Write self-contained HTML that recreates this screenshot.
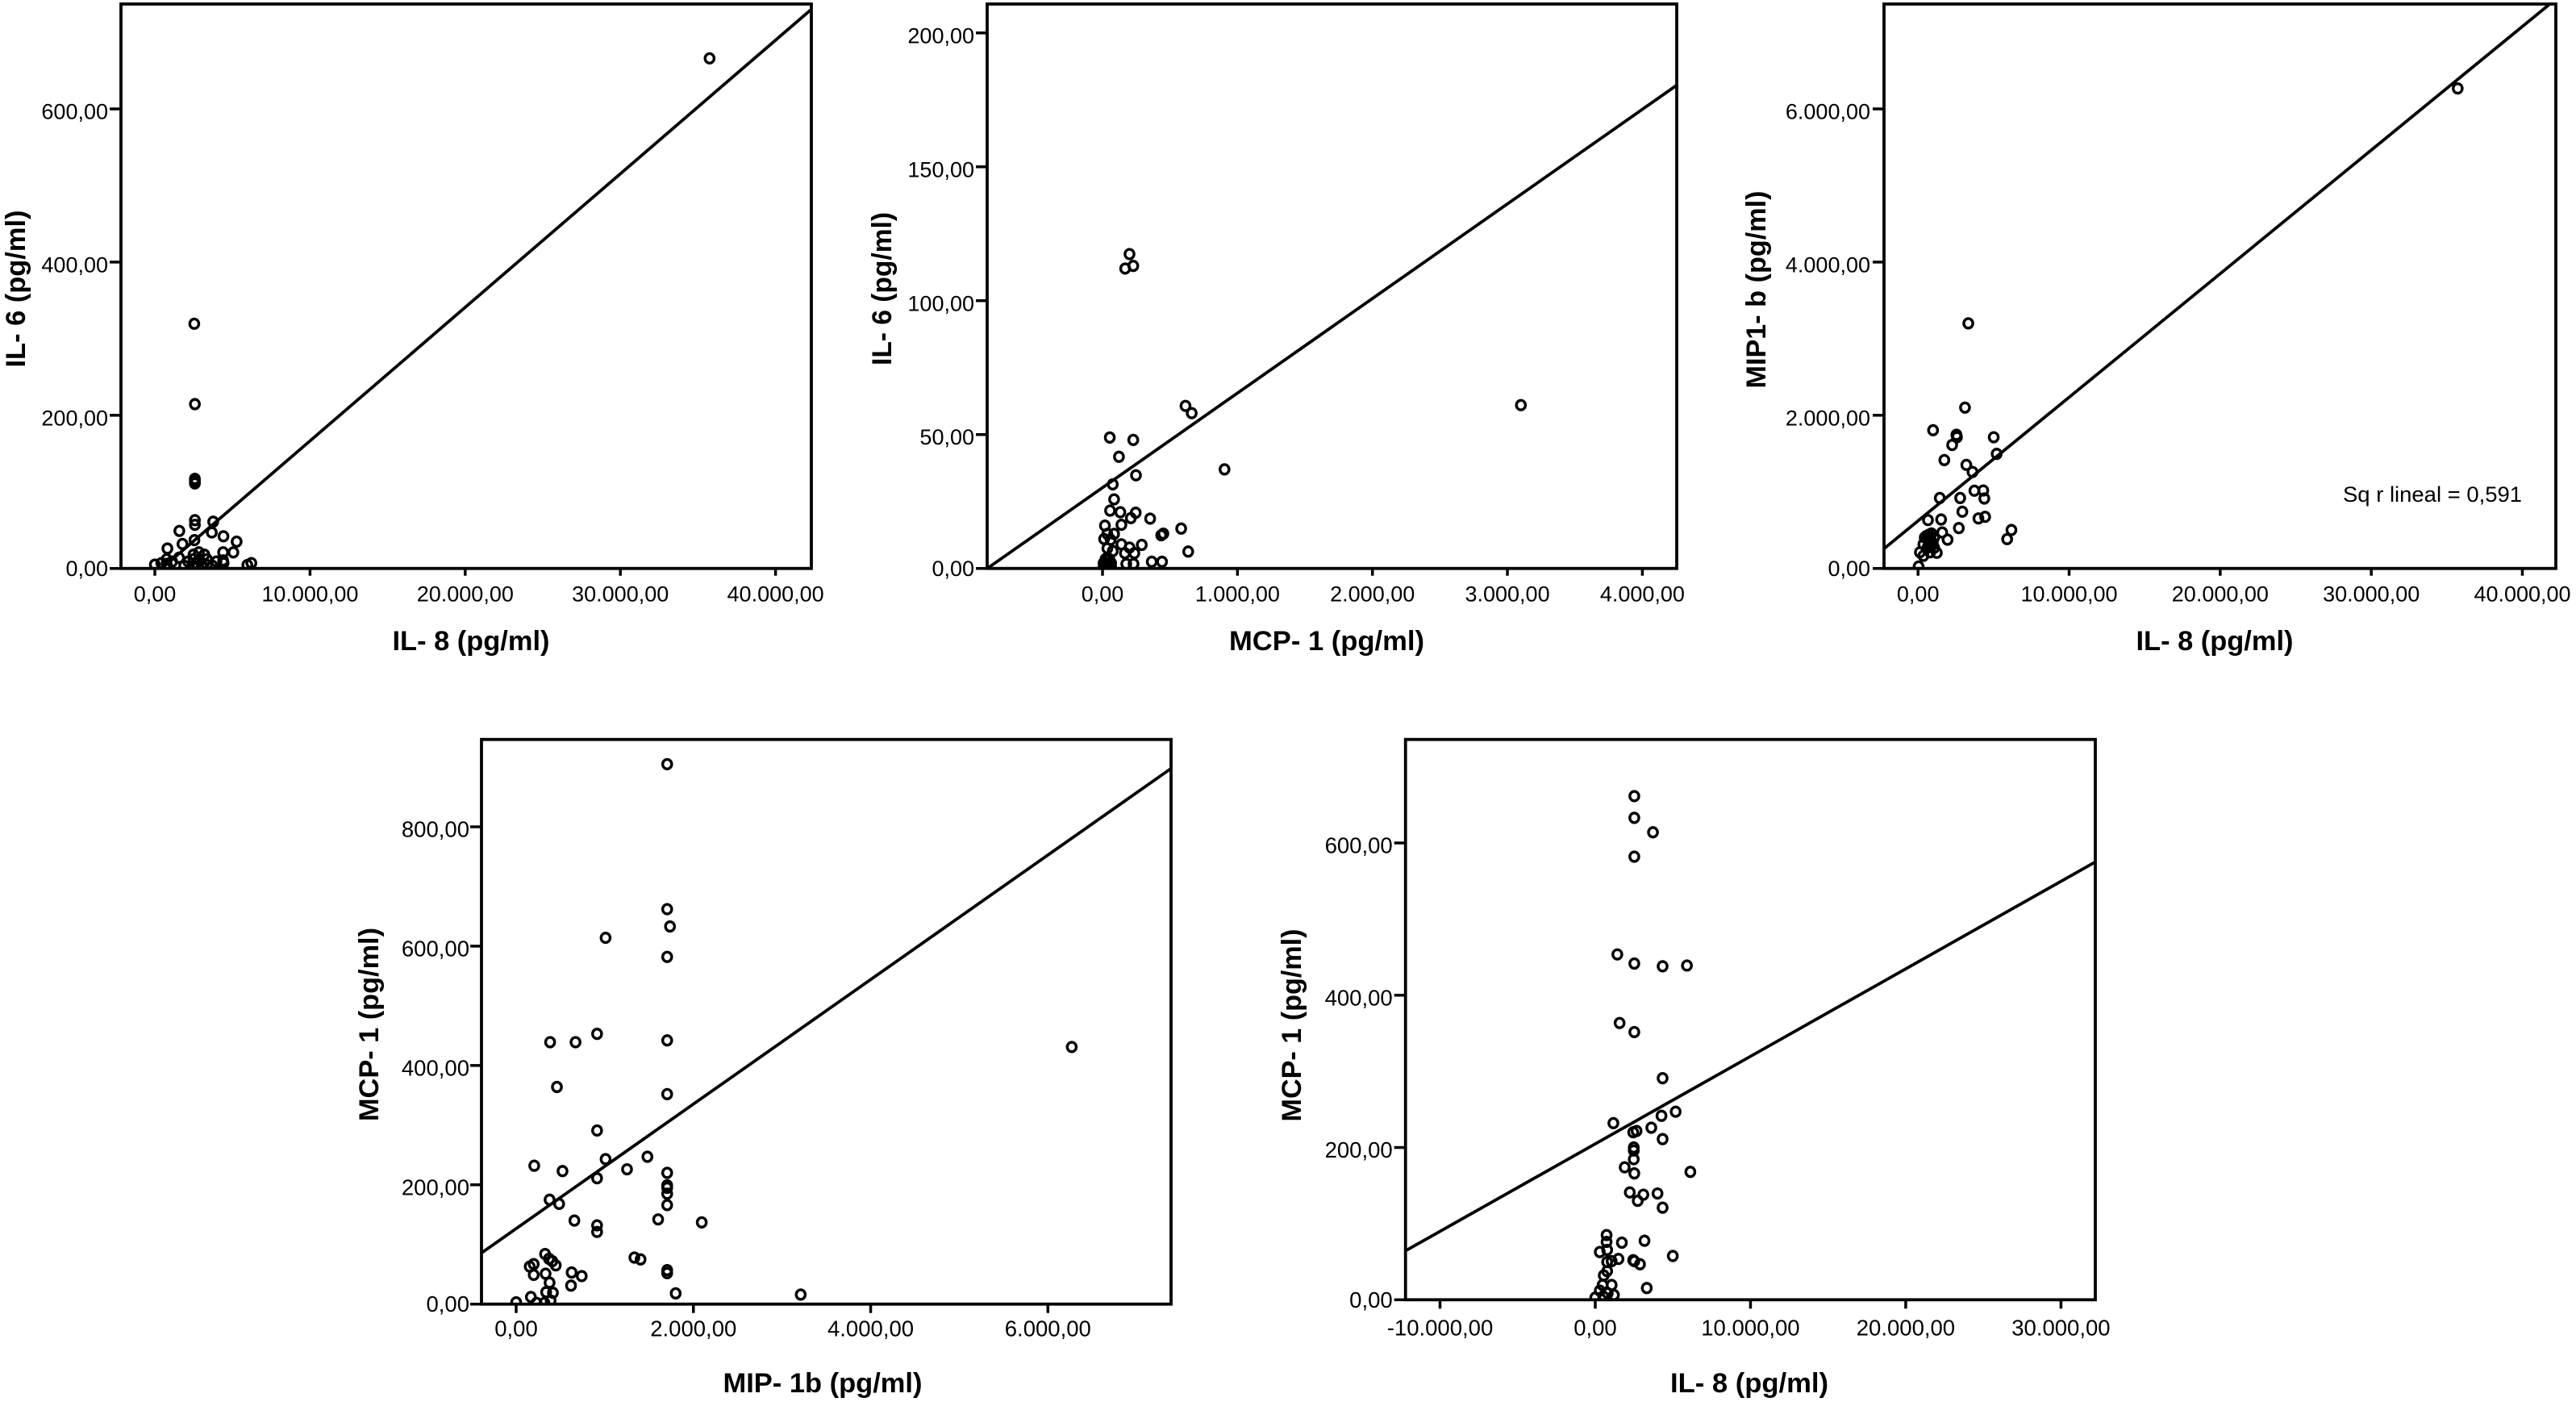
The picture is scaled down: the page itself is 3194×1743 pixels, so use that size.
<!DOCTYPE html>
<html lang="es">
<head>
<meta charset="utf-8">
<title>Scatter plots of cytokine correlations</title>
<style>
  html, body { margin: 0; padding: 0; background: #fff; }
  svg { display: block; }
  text { font-family: "Liberation Sans", Arial, sans-serif; fill: #000; }
  .axis-title { font-weight: bold; font-size: 34px; }
  .frame { fill: none; stroke: #000; stroke-width: 3.8; }
</style>
</head>
<body>
<svg id="figure" xmlns="http://www.w3.org/2000/svg" width="3194" height="1743" viewBox="0 0 3194 1743">
  <rect x="0" y="0" width="3194" height="1743" fill="#fff"/>

  <g id="panel-a">
    <rect class="frame" x="150" y="5" width="856" height="699.7"/>
    <text class="axis-title" x="584" y="806" text-anchor="middle" textLength="195" lengthAdjust="spacingAndGlyphs">IL- 8 (pg/ml)</text>
    <text class="axis-title" transform="translate(31 358) rotate(-90)" text-anchor="middle" textLength="195" lengthAdjust="spacingAndGlyphs">IL- 6 (pg/ml)</text>
  </g>

  <g id="panel-b">
    <rect class="frame" x="1224" y="5" width="855" height="699.7"/>
    <text class="axis-title" x="1645" y="806" text-anchor="middle" textLength="242" lengthAdjust="spacingAndGlyphs">MCP- 1 (pg/ml)</text>
    <text class="axis-title" transform="translate(1105 358) rotate(-90)" text-anchor="middle" textLength="190" lengthAdjust="spacingAndGlyphs">IL- 6 (pg/ml)</text>
  </g>

  <g id="panel-c">
    <rect class="frame" x="2336" y="5" width="833" height="699.7"/>
    <text class="axis-title" x="2746" y="806" text-anchor="middle" textLength="195" lengthAdjust="spacingAndGlyphs">IL- 8 (pg/ml)</text>
    <text class="axis-title" transform="translate(2189 359) rotate(-90)" text-anchor="middle" textLength="245" lengthAdjust="spacingAndGlyphs">MIP1- b (pg/ml)</text>
    <text x="2905" y="622" font-size="27" textLength="222" lengthAdjust="spacingAndGlyphs">Sq r lineal = 0,591</text>
  </g>

  <g id="panel-d">
    <rect class="frame" x="597" y="916.7" width="855" height="700"/>
    <text class="axis-title" x="1020" y="1726" text-anchor="middle" textLength="247" lengthAdjust="spacingAndGlyphs">MIP- 1b (pg/ml)</text>
    <text class="axis-title" transform="translate(469 1270) rotate(-90)" text-anchor="middle" textLength="240" lengthAdjust="spacingAndGlyphs">MCP- 1 (pg/ml)</text>
  </g>

  <g id="panel-e">
    <rect class="frame" x="1742.7" y="916.7" width="855.3" height="694.6"/>
    <text class="axis-title" x="2169" y="1726" text-anchor="middle" textLength="196" lengthAdjust="spacingAndGlyphs">IL- 8 (pg/ml)</text>
    <text class="axis-title" transform="translate(1613 1271) rotate(-90)" text-anchor="middle" textLength="239" lengthAdjust="spacingAndGlyphs">MCP- 1 (pg/ml)</text>
  </g>
</svg>

<script>
// ---- Panel A: IL-6 vs IL-8 ----
const panelAXValues = [35750, 2540, 2580, 2580, 2580, 2580, 2580, 2580, 3760, 3670, 1580, 2550, 4420, 5270, 1780, 810, 5060, 4400, 760, 1560, 2840, 2490, 3190, 4400, 3360, 2490, 2840, 2150, 3970, 4430, 6220, 5960, 0, 1110, 415, 760, 1890, 3010, 2670, 3710, 3360];
const panelAYValues = [666, 319.5, 214.5, 117, 114, 111, 63, 57, 61, 47, 49, 37, 42, 35, 32, 26, 21, 21, 12, 14, 21, 18, 18, 10.5, 12, 12, 12, 9, 9, 7, 7, 4.5, 5, 9, 7, 6, 3.5, 5, 7, 3.5, 4.5];
const panelATrendX = [450, 42308];
const panelATrendY = [0, 730];
const panelAXTickValues = [0, 10000, 20000, 30000, 40000];
const panelAXTickLabels = ["0,00", "10.000,00", "20.000,00", "30.000,00", "40.000,00"];
const panelAYTickValues = [0, 200, 400, 600];
const panelAYTickLabels = ["0,00", "200,00", "400,00", "600,00"];

// ---- Panel B: IL-6 vs MCP-1 ----
const panelBXValues = [200, 228, 168, 615, 661, 3100, 54, 228, 122, 904, 248, 76, 86, 56, 132, 246, 210, 353, 140, 18, 583, 451, 435, 86, 36, 12, 60, 140, 291, 200, 635, 36, 76, 166, 236, 365, 441, 176, 230, 8, 22, 36, 50, 64, 8, 22, 36, 50, 64, 22, 36, 50, 36];
const panelBYValues = [117.4, 113, 112, 60.7, 58, 61, 48.9, 48, 41.7, 37, 34.8, 31.4, 25.8, 21.6, 21, 20.8, 18.8, 18.6, 16.3, 16, 14.9, 13, 12.4, 12.9, 12.9, 11, 10.7, 9, 8.8, 7.8, 6.3, 7.5, 6.5, 5.7, 5.7, 2.5, 2.5, 1.7, 1.7, 0.5, 0.5, 0.5, 0.5, 0.5, 2, 2, 2, 2, 2, 3.5, 3.5, 3.5, 4];
const panelBTrendX = [-854, 4253];
const panelBTrendY = [0, 180.4];
const panelBXTickValues = [0, 1000, 2000, 3000, 4000];
const panelBXTickLabels = ["0,00", "1.000,00", "2.000,00", "3.000,00", "4.000,00"];
const panelBYTickValues = [0, 50, 100, 150, 200];
const panelBYTickLabels = ["0,00", "50,00", "100,00", "150,00", "200,00"];

// ---- Panel C: MIP1-b vs IL-8 ----
const panelCXValues = [35720, 3327, 3108, 995, 2540, 2575, 2256, 5009, 5204, 1741, 3197, 3606, 3730, 4316, 4387, 1439, 2789, 2931, 657, 1528, 3996, 4440, 2700, 6181, 5897, 1599, 1954, 888, 1066, 355, 124, 355, 799, 1243, 36, 533, 710, 622, 799, 444, 710, 977, 1066, 622, 799];
const panelCYValues = [6267, 3200, 2100, 1805, 1745, 1713, 1612, 1713, 1496, 1415, 1352, 1260, 1015, 1018, 913, 920, 920, 741, 632, 639, 653, 674, 527, 502, 383, 470, 376, 456, 404, 316, 211, 165, 211, 204, 25, 421, 439, 386, 386, 404, 351, 334, 270, 270, 298];
const panelCTrendX = [-2267, 41792];
const panelCTrendY = [256, 7365];
const panelCXTickValues = [0, 10000, 20000, 30000, 40000];
const panelCXTickLabels = ["0,00", "10.000,00", "20.000,00", "30.000,00", "40.000,00"];
const panelCYTickValues = [0, 2000, 4000, 6000];
const panelCYTickLabels = ["0,00", "2.000,00", "4.000,00", "6.000,00"];

// ---- Panel D: MCP-1 vs MIP-1b ----
const panelDXValues = [1704, 1704, 1736, 1009, 1704, 913, 383, 670, 1704, 6269, 460, 1704, 913, 1481, 1009, 204, 1251, 523, 1704, 913, 1704, 1704, 1704, 377, 485, 1704, 1602, 657, 2094, 913, 913, 326, 370, 408, 1334, 1404, 198, 153, 447, 1704, 1704, 626, 332, 198, 740, 377, 619, 338, 415, 1800, 3211, 166, 389, 0, 319, 230];
const panelDYValues = [905, 662, 633, 614, 582, 453, 439, 439, 442, 431, 364, 352, 291, 247, 243, 232, 226, 223, 220, 211, 199, 195, 185, 175, 168, 166, 142, 140, 137, 132, 121, 84, 76, 72, 78, 75, 67, 63, 65, 57, 52, 53, 51, 49, 47, 36, 31, 20, 19, 18, 16, 12, 6, 3, 2, 2];
const panelDTrendX = [-389, 7392];
const panelDTrendY = [86, 898];
const panelDXTickValues = [0, 2000, 4000, 6000];
const panelDXTickLabels = ["0,00", "2.000,00", "4.000,00", "6.000,00"];
const panelDYTickValues = [0, 200, 400, 600, 800];
const panelDYTickLabels = ["0,00", "200,00", "400,00", "600,00", "800,00"];

// ---- Panel E: MCP-1 vs IL-8 ----
const panelEXValues = [2516, 2516, 3719, 2516, 1422, 2516, 4339, 5907, 1568, 2516, 4339, 5178, 4266, 1167, 3610, 2662, 2443, 4339, 2480, 2480, 2480, 1896, 2516, 6126, 2224, 3099, 4011, 2735, 4339, 729, 729, 3172, 1714, 292, 766, 4995, 1495, 2443, 2516, 766, 1057, 2881, 766, 547, 1057, 474, 3318, 292, 1203, 802, 0, 510];
const panelEYValues = [661.5, 633, 614, 582, 453.6, 441.6, 438, 439, 363.5, 351.6, 291, 247, 241.6, 232, 226, 221.7, 220, 211, 200, 196, 184.6, 174, 166, 168, 141, 138, 139.6, 130, 121, 85, 76, 77.5, 75, 62.7, 65.5, 57.5, 53.6, 52, 50.7, 49.6, 50.7, 46.7, 37.6, 32, 19.4, 19.4, 15.4, 12, 6.3, 8.5, 2.8, 4.5];
const panelETrendX = [-12215, 32300];
const panelETrendY = [64.4, 576];
const panelEXTickValues = [-10000, 0, 10000, 20000, 30000];
const panelEXTickLabels = ["-10.000,00", "0,00", "10.000,00", "20.000,00", "30.000,00"];
const panelEYTickValues = [0, 200, 400, 600];
const panelEYTickLabels = ["0,00", "200,00", "400,00", "600,00"];

// ---- Rendering ----
const SVG_NS = 'http://www.w3.org/2000/svg';

function linearScale(d0, d1, r0, r1) {
  return function (v) {
    return r0 + (v - d0) * (r1 - r0) / (d1 - d0);
  };
}

function make(tag, attrs) {
  const node = document.createElementNS(SVG_NS, tag);
  Object.keys(attrs).forEach(function (k) { node.setAttribute(k, attrs[k]); });
  return node;
}

function drawPanel(p) {
  const group = document.getElementById(p.id);
  const f = p.frame;
  const xScale = linearScale(p.xCal[0], p.xCal[1], p.xCal[2], p.xCal[3]);
  const yScale = linearScale(p.yCal[0], p.yCal[1], p.yCal[2], p.yCal[3]);

  const clip = make('clipPath', { id: p.id + '-clip' });
  clip.appendChild(make('rect', { x: f.left, y: f.top, width: f.right - f.left, height: f.bottom - f.top }));
  group.appendChild(clip);

  p.xTickValues.forEach(function (v, i) {
    const tick = make('line', { x1: xScale(v), x2: xScale(v), y1: f.bottom, y2: f.bottom + p.xTickLength, stroke: '#000', 'stroke-width': 3.5 });
    
    
    group.appendChild(tick);
    const label = make('text', { x: xScale(v), y: f.bottom + p.xLabelDrop, 'text-anchor': 'middle', 'font-size': p.fontSize });
    
    
    label.textContent = p.xTickLabels[i];
    group.appendChild(label);
  });

  p.yTickValues.forEach(function (v, i) {
    const tick = make('line', { x1: f.left - 14, x2: f.left, y1: yScale(v), y2: yScale(v), stroke: '#000', 'stroke-width': 3.5 });
    
    
    group.appendChild(tick);
    const label = make('text', { x: f.left - p.yLabelGap, y: yScale(v) + (v === 0 ? 9.5 : 12.5), 'text-anchor': 'end', 'font-size': p.fontSize });
    
    
    label.textContent = p.yTickLabels[i];
    group.appendChild(label);
  });

  const marks = make('g', { 'clip-path': 'url(#' + p.id + '-clip)' });
  
  
  group.appendChild(marks);

  const trend = make('line', {
    x1: xScale(p.trendX[0]), y1: yScale(p.trendY[0]),
    x2: xScale(p.trendX[1]), y2: yScale(p.trendY[1]),
    stroke: '#000', 'stroke-width': 3.8
  });
  
  
  marks.appendChild(trend);

  p.xValues.forEach(function (xv, i) {
    const dot = make('ellipse', { cx: xScale(xv), cy: yScale(p.yValues[i]), rx: 5.6, ry: 5.9, fill: 'none', stroke: '#000', 'stroke-width': 3.4 });
    
    
    marks.appendChild(dot);
  });
}

[
  { id: 'panel-a', frame: { left: 150, right: 1006, top: 5, bottom: 704.7 }, xCal: [0, 40000, 192, 961.6], yCal: [0, 600, 704.7, 135],
    xValues: panelAXValues, yValues: panelAYValues, trendX: panelATrendX, trendY: panelATrendY,
    xTickValues: panelAXTickValues, xTickLabels: panelAXTickLabels, yTickValues: panelAYTickValues, yTickLabels: panelAYTickLabels,
    fontSize: 27, xLabelDrop: 41, yLabelGap: 16, xTickLength: 9 },
  { id: 'panel-b', frame: { left: 1224, right: 2079, top: 5, bottom: 704.7 }, xCal: [0, 4000, 1367, 2036.4], yCal: [0, 200, 704.7, 40.8],
    xValues: panelBXValues, yValues: panelBYValues, trendX: panelBTrendX, trendY: panelBTrendY,
    xTickValues: panelBXTickValues, xTickLabels: panelBXTickLabels, yTickValues: panelBYTickValues, yTickLabels: panelBYTickLabels,
    fontSize: 27, xLabelDrop: 41, yLabelGap: 16, xTickLength: 9 },
  { id: 'panel-c', frame: { left: 2336, right: 3169, top: 5, bottom: 704.7 }, xCal: [0, 40000, 2378.2, 3127.5], yCal: [0, 6000, 704.7, 135],
    xValues: panelCXValues, yValues: panelCYValues, trendX: panelCTrendX, trendY: panelCTrendY,
    xTickValues: panelCXTickValues, xTickLabels: panelCXTickLabels, yTickValues: panelCYTickValues, yTickLabels: panelCYTickLabels,
    fontSize: 27, xLabelDrop: 41, yLabelGap: 17, xTickLength: 9 },
  { id: 'panel-d', frame: { left: 597, right: 1452, top: 916.7, bottom: 1616.7 }, xCal: [0, 6000, 640, 1299.3], yCal: [0, 800, 1616.7, 1025],
    xValues: panelDXValues, yValues: panelDYValues, trendX: panelDTrendX, trendY: panelDTrendY,
    xTickValues: panelDXTickValues, xTickLabels: panelDXTickLabels, yTickValues: panelDYTickValues, yTickLabels: panelDYTickLabels,
    fontSize: 27.5, xLabelDrop: 40, yLabelGap: 15, xTickLength: 11 },
  { id: 'panel-e', frame: { left: 1742.7, right: 2598, top: 916.7, bottom: 1611.3 }, xCal: [-10000, 30000, 1785.5, 2555.4], yCal: [0, 600, 1611.3, 1045],
    xValues: panelEXValues, yValues: panelEYValues, trendX: panelETrendX, trendY: panelETrendY,
    xTickValues: panelEXTickValues, xTickLabels: panelEXTickLabels, yTickValues: panelEYTickValues, yTickLabels: panelEYTickLabels,
    fontSize: 27.5, xLabelDrop: 44, yLabelGap: 16, xTickLength: 11 }
].forEach(drawPanel);
</script>
</body>
</html>
